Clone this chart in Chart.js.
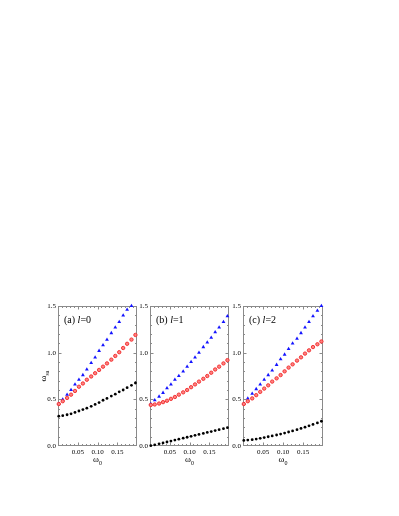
<!DOCTYPE html>
<html>
<head>
<meta charset="utf-8">
<script src="https://cdn.jsdelivr.net/npm/chart.js@4/dist/chart.umd.min.js"></script>
<style>
html,body{margin:0;padding:0;background:#fff;width:399px;height:516px;overflow:hidden;}
canvas{position:absolute;}
</style>
</head>
<body>
<canvas id="ca" width="115" height="178" style="left:28px;top:296px"></canvas>
<canvas id="cb" width="105" height="178" style="left:130px;top:296px"></canvas>
<canvas id="cc" width="106" height="178" style="left:223px;top:296px"></canvas>
<script>
// omega_0 values (x)
const omega0 = [0.002,0.012,0.023,0.033,0.043,0.053,0.063,0.073,0.084,0.094,0.104,0.114,0.124,0.135,0.145,0.155,0.165,0.175,0.186,0.196];
const xTickLabels = [0.05, 0.10, 0.15];
const yTickLabels = [0.0, 0.5, 1.0, 1.5];

// panel (a) l=0
const aBlack = [0.32,0.325,0.335,0.345,0.36,0.375,0.39,0.405,0.425,0.445,0.465,0.49,0.51,0.535,0.555,0.58,0.60,0.625,0.65,0.675];
const aRed   = [0.45,0.48,0.515,0.55,0.59,0.635,0.67,0.71,0.745,0.78,0.815,0.85,0.885,0.925,0.965,1.005,1.05,1.095,1.14,1.19];
const aBlue  = [0.45,0.50,0.55,0.60,0.66,0.71,0.76,0.82,0.89,0.95,1.02,1.08,1.14,1.21,1.27,1.33,1.40,1.46,1.50];
// panel (b) l=1
const bBlack = [0.004,0.013,0.023,0.033,0.043,0.053,0.063,0.073,0.084,0.094,0.104,0.114,0.124,0.135,0.145,0.155,0.165,0.175,0.186,0.196];
const bRed   = [0.44,0.445,0.455,0.47,0.485,0.505,0.525,0.55,0.575,0.60,0.63,0.66,0.69,0.72,0.75,0.785,0.82,0.85,0.885,0.92];
const bBlue  = [0.45,0.49,0.53,0.57,0.62,0.66,0.71,0.75,0.80,0.85,0.90,0.95,1.00,1.06,1.11,1.16,1.22,1.27,1.33,1.39];
// panel (c) l=2
const cBlack = [0.06,0.063,0.068,0.074,0.082,0.09,0.099,0.108,0.118,0.128,0.139,0.15,0.162,0.175,0.188,0.202,0.216,0.231,0.247,0.265];
const cRed   = [0.45,0.48,0.51,0.545,0.58,0.615,0.65,0.69,0.725,0.76,0.80,0.84,0.875,0.915,0.95,0.99,1.025,1.06,1.09,1.12];
const cBlue  = [0.45,0.51,0.56,0.61,0.66,0.71,0.76,0.81,0.87,0.93,0.98,1.04,1.10,1.15,1.21,1.27,1.33,1.39,1.45,1.50];

const SERIF = '"Liberation Serif","Times New Roman",serif';

function pts(ys){ return ys.map((y,i)=>({x:omega0[i], y:y})); }

function framePlugin(label, lval, showYTitle){
  return {
    id:'frame',
    beforeDatasetsDraw(chart){
      const ctx = chart.ctx, a = chart.chartArea;
      const xs = chart.scales.x, ys = chart.scales.y;
      ctx.save();
      ctx.strokeStyle = '#8a8a8a';
      ctx.lineWidth = 1;
      ctx.strokeRect(a.left+0.5, a.top+0.5, a.right-a.left-1, a.bottom-a.top-1);
      ctx.beginPath();
      for(let i=1;i<15;i++){
        const v = i/10;
        const p = Math.round(ys.getPixelForValue(v))+0.5;
        const L = (i%5===0)?3.5:2;
        ctx.moveTo(a.left, p); ctx.lineTo(a.left+L, p);
        ctx.moveTo(a.right, p); ctx.lineTo(a.right-L, p);
      }
      for(let i=1;i<20;i++){
        const v = i/100;
        const p = Math.round(xs.getPixelForValue(v))+0.5;
        const L = (i%5===0)?3.5:2;
        ctx.moveTo(p, a.bottom); ctx.lineTo(p, a.bottom-L);
        ctx.moveTo(p, a.top); ctx.lineTo(p, a.top+L);
      }
      ctx.stroke();
      ctx.restore();
    },
    afterDraw(chart){
      const ctx = chart.ctx, a = chart.chartArea;
      ctx.save();
      ctx.fillStyle = '#000';
      ctx.textBaseline = 'alphabetic';
      // panel label
      let x = a.left + 6, y = a.top + 17;
      ctx.font = '10px ' + SERIF;
      ctx.fillText(label, x, y); x += ctx.measureText(label).width;
      ctx.font = 'italic 10px ' + SERIF;
      ctx.fillText('l', x, y); x += ctx.measureText('l').width;
      ctx.font = '10px ' + SERIF;
      ctx.fillText('=' + lval, x, y);
      // x title
      const cx = (a.left + a.right)/2;
      ctx.font = '9px ' + SERIF;
      const w1 = ctx.measureText('ω').width;
      ctx.font = '6px ' + SERIF;
      const w2 = ctx.measureText('0').width;
      let sx = cx - (w1+w2)/2;
      ctx.font = '9px ' + SERIF;
      ctx.fillText('ω', sx, a.bottom + 16);
      ctx.font = '6px ' + SERIF;
      ctx.fillText('0', sx + w1, a.bottom + 18.5);
      if(showYTitle){
        ctx.translate(15, (a.top + a.bottom)/2);
        ctx.rotate(-Math.PI/2);
        ctx.font = '9px ' + SERIF;
        const u1 = ctx.measureText('ω').width;
        ctx.font = '6px ' + SERIF;
        const u2 = ctx.measureText('sa').width;
        ctx.font = '9px ' + SERIF;
        ctx.fillText('ω', -(u1+u2)/2, 3);
        ctx.font = '6px ' + SERIF;
        ctx.fillText('sa', -(u1+u2)/2 + u1, 5.5);
      }
      ctx.restore();
    }
  };
}

function makePanel(id, yW, blk, red, blu, label, lval, showYTitle){
  new Chart(document.getElementById(id), {
    type:'scatter',
    data:{ datasets:[
      {data:pts(blk), pointStyle:'circle', pointRadius:1.4, backgroundColor:'#000', borderColor:'#000', borderWidth:0, clip:3},
      {data:pts(red), pointStyle:'circle', pointRadius:1.7, backgroundColor:'#ff8080', borderColor:'#f02a2a', borderWidth:0.9, clip:3},
      {data:pts(blu), pointStyle:'triangle', pointRadius:2.2, backgroundColor:'#1414ff', borderColor:'#1414ff', borderWidth:0, clip:3}
    ]},
    options:{
      responsive:false, animation:false, devicePixelRatio:1,
      events:[],
      layout:{padding:{top:10,right:6,left:0,bottom:0}},
      plugins:{legend:{display:false}, tooltip:{enabled:false}},
      scales:{
        x:{type:'linear', min:0, max:0.2,
           grid:{display:false, drawTicks:false}, border:{display:false},
           afterBuildTicks:s=>{ s.ticks = xTickLabels.map(v=>({value:v})); },
           afterFit:s=>{ s.height = 28; },
           ticks:{padding:2, color:'#000', font:{family:SERIF, size:7}, maxRotation:0, autoSkip:false,
                  callback:v=>Number(v).toFixed(2)}},
        y:{type:'linear', min:0, max:1.5,
           grid:{display:false, drawTicks:false}, border:{display:false},
           afterBuildTicks:s=>{ s.ticks = yTickLabels.map(v=>({value:v})); },
           afterFit:s=>{ s.width = yW; },
           ticks:{padding:2, color:'#000', font:{family:SERIF, size:7}, autoSkip:false,
                  callback:v=>Number(v).toFixed(1)}}
      }
    },
    plugins:[framePlugin(label, lval, showYTitle)]
  });
}

makePanel('ca', 30, aBlack, aRed, aBlue, '(a) ', '0', true);
makePanel('cb', 20, bBlack, bRed, bBlue, '(b) ', '1', false);
makePanel('cc', 20, cBlack, cRed, cBlue, '(c) ', '2', false);
</script>
</body>
</html>
